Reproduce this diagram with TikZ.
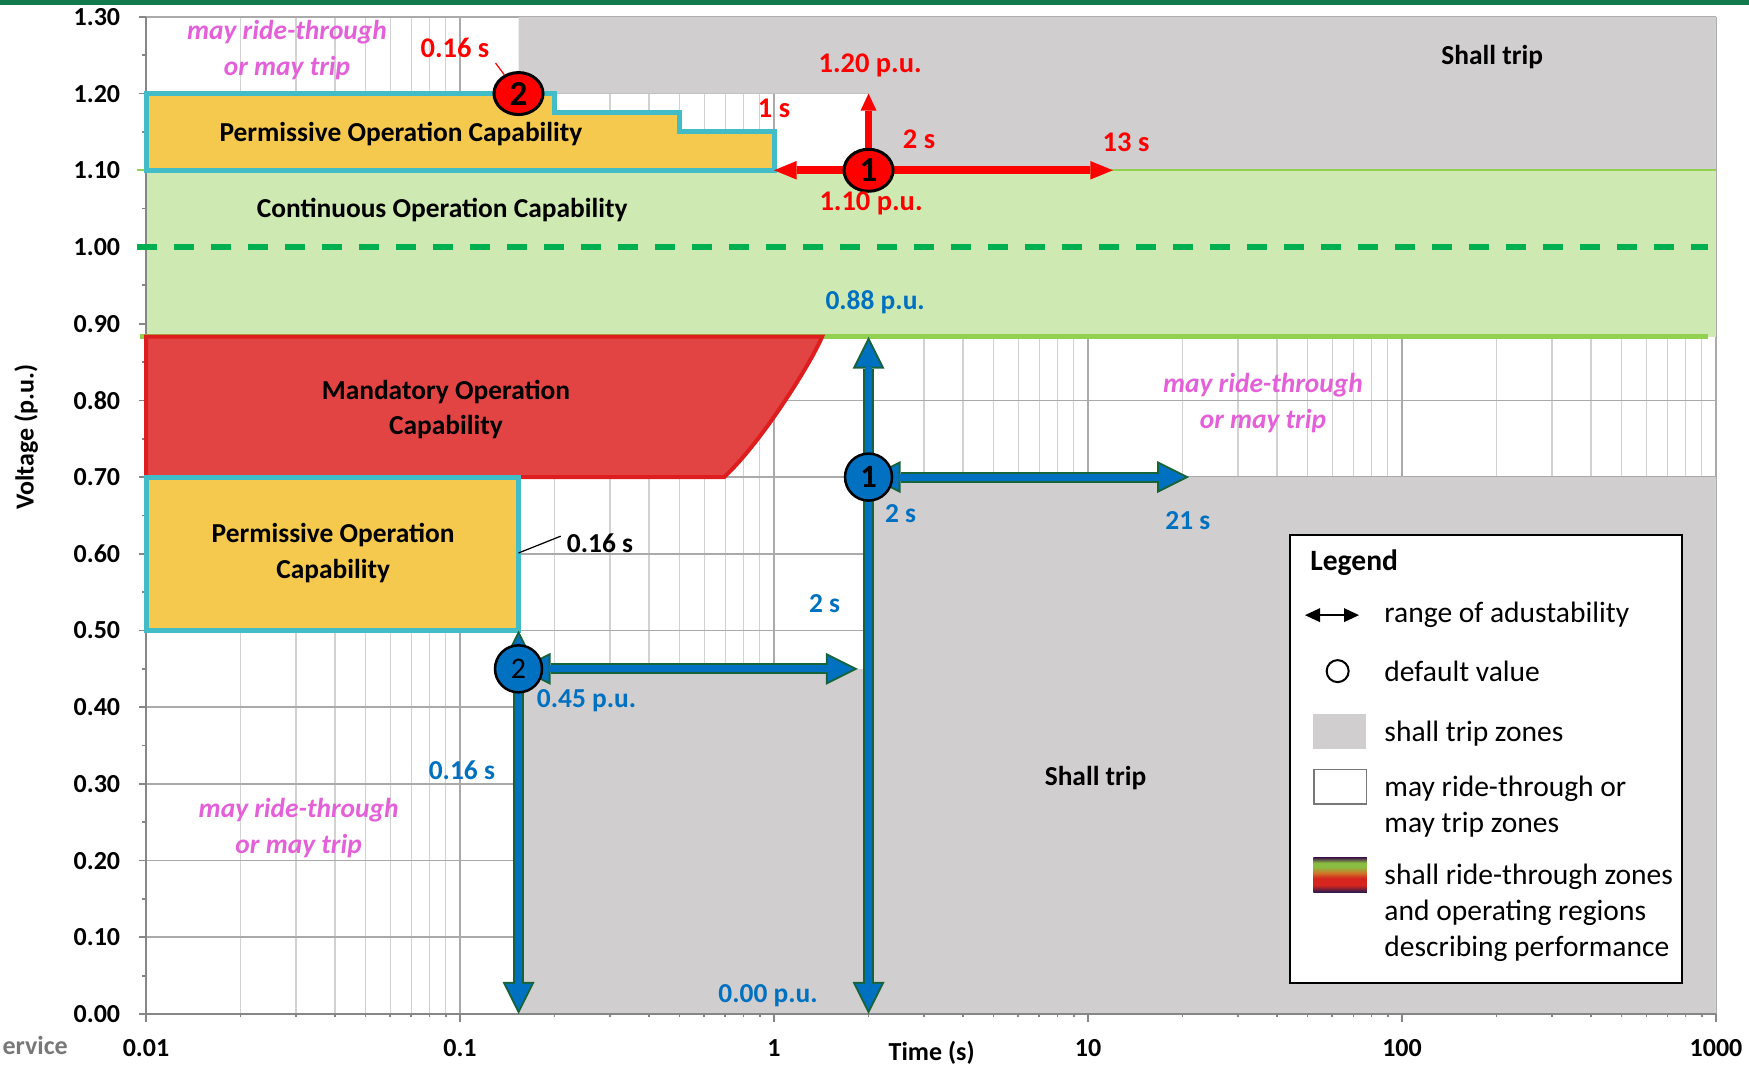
\documentclass[tikz,border=0pt]{standalone}
\usepackage{fontspec}
\setmainfont{Carlito}
\usetikzlibrary{arrows.meta,shapes.geometric,positioning}

\definecolor{tripgray}{RGB}{208,206,207}
\definecolor{contgreen}{RGB}{206,233,178}
\definecolor{limitgreen}{RGB}{146,208,80}
\definecolor{nominalgreen}{RGB}{0,176,80}
\definecolor{permfill}{RGB}{244,201,78}
\definecolor{permedge}{RGB}{66,189,199}
\definecolor{mandfill}{RGB}{226,68,68}
\definecolor{mandedge}{RGB}{222,30,30}
\definecolor{maycolor}{RGB}{228,96,216}
\definecolor{setblue}{RGB}{0,112,192}
\definecolor{rimgreen}{RGB}{24,100,58}
\definecolor{gridmajor}{RGB}{170,170,170}
\definecolor{gridminor}{RGB}{210,210,210}
\definecolor{axisgray}{RGB}{134,134,134}
\definecolor{bandgreen}{RGB}{18,122,76}
\definecolor{logogray}{RGB}{120,120,120}
\definecolor{zonenavy}{RGB}{22,24,84}
\definecolor{zonered}{RGB}{214,36,30}
\definecolor{zoneorange}{RGB}{206,120,40}
\definecolor{zonegreen}{RGB}{138,190,66}
\definecolor{zonepurple}{RGB}{72,40,72}

\pgfdeclareverticalshading{ridezones}{100bp}{color(0bp)=(zonenavy); color(25bp)=(zonenavy); color(36bp)=(zonered); color(46bp)=(zonered); color(54bp)=(zoneorange); color(62bp)=(zonegreen); color(68bp)=(zonegreen); color(75bp)=(zonepurple); color(100bp)=(zonepurple)}

\begin{document}
\begin{tikzpicture}[x=6.28cm, y=15.34cm, declare function={lt(\t)=log10(\t)+2;}]

\tikzstyle{majorgrid}=[draw=gridmajor, line width=0.35mm]
\tikzstyle{minorgrid}=[draw=gridminor, line width=0.3mm]
\tikzstyle{axisline}=[draw=axisgray, line width=0.35mm]
\tikzstyle{permissive}=[draw=permedge, fill=permfill, line width=1mm]
\tikzstyle{mandatory}=[draw=mandedge, fill=mandfill, line width=0.8mm]
\tikzstyle{ticklabel}=[inner sep=0pt, font=\fontsize{14.8}{17}\selectfont\bfseries]
\tikzstyle{zonelabel}=[align=center, font=\fontsize{15.6}{20}\selectfont\bfseries]
\tikzstyle{maylabel}=[align=center, text=maycolor, font=\fontsize{15.6}{20.5}\selectfont\bfseries\itshape]
\tikzstyle{redlabel}=[text=red, font=\fontsize{16.2}{19}\selectfont\bfseries]
\tikzstyle{bluelabel}=[text=setblue, font=\fontsize{15.6}{19}\selectfont\bfseries]
\tikzstyle{legendtext}=[anchor=west, inner sep=0pt, align=left, font=\fontsize{16.8}{20.5}\selectfont]
\tikzstyle{redmark}=[ellipse, draw=black, line width=0.6mm, fill=red, minimum width=9.8mm, minimum height=8.4mm, inner sep=0pt, font=\fontsize{20}{20}\selectfont\bfseries]
\tikzstyle{bluemark}=[circle, draw=black, line width=0.5mm, fill=setblue, minimum size=9.4mm, inner sep=0pt]
\tikzstyle{redarrow}=[red, line width=1.6mm, {Triangle[length=4.5mm,width=3.7mm,line width=0pt]}-{Triangle[length=4.5mm,width=3.7mm,line width=0pt]}]
\tikzstyle{redup}=[red, line width=1.5mm, -{Triangle[length=3.4mm,width=3.2mm,line width=0pt]}]
\tikzstyle{bluerim}=[rimgreen, line width=2.2mm, >={Triangle[length=6.4mm,width=6.4mm,line width=0pt]}]
\tikzstyle{bluecore}=[setblue, line width=1.4mm, shorten <=0.9mm, shorten >=0.9mm, >={Triangle[length=5.1mm,width=5.1mm,line width=0pt]}]

\useasboundingbox (-0.465,-0.0704) rectangle (5.105,1.322);
\fill[bandgreen] (-0.465,1.3161) rectangle (5.105,1.322);

\foreach \d in {0,...,4}
  \foreach \k in {2,...,9}
    \draw[minorgrid] ({\d+log10(\k)},0) -- ({\d+log10(\k)},1.3);
\foreach \d in {0,...,5}
  \draw[majorgrid] (\d,0) -- (\d,1.3);
\foreach \i in {1,...,13}
  \draw[majorgrid] (0,\i/10) -- (5,\i/10);

\fill[tripgray] ({lt(0.152)},1.3) -- (5,1.3) -- (5,1.10) -- ({lt(2)},1.10) -- ({lt(2)},1.20) -- ({lt(0.152)},1.20) -- cycle;
\fill[tripgray] ({lt(0.152)},0) -- ({lt(0.152)},0.45) -- ({lt(2)},0.45) -- ({lt(2)},0.70) -- (5,0.70) -- (5,0) -- cycle;
\fill[contgreen] (0,0.883) rectangle (5,1.10);

\draw[axisline] (0,0) -- (0,1.3);
\draw[axisline] (0,0) -- (5,0);
\foreach \i in {0,...,13}
  \draw[axisline] (0,\i/10) -- ++(-1.5mm,0);
\foreach \i in {0,...,12}
  \draw[axisline] (0,\i/10+0.05) -- ++(-0.9mm,0);
\foreach \d in {0,...,5}
  \draw[axisline] (\d,0) -- ++(0,-1.6mm);
\foreach \d in {0,...,4}
  \foreach \k in {2,...,9}
    \draw[axisline] ({\d+log10(\k)},0) -- ++(0,-0.6mm);

\foreach \i [evaluate=\i as \v using \i/10] in {0,...,13}
  \node[ticklabel, left=5.1mm] (yl\i) at (0,\v) {\pgfmathprintnumber[fixed,fixed zerofill,precision=2,assume math mode=true]{\v}};
\foreach \t [count=\n from 0] in {0.01,0.1,1,10,100,1000}
  \node[ticklabel, below=5.1mm] (xl\n) at (\n,0) {\t};
\node[ticklabel] (xtitle) at (2.502,-0.0508) {Time (s)};
\node[ticklabel, rotate=90] (ytitle) at (-0.382,0.752) {Voltage (p.u.)};
\node[ticklabel, anchor=east, text=logogray] (logo) at (-0.248,-0.0404) {ervice};

\draw[limitgreen, line width=0.4mm] (-0.03,1.10) -- (5,1.10);
\draw[limitgreen, line width=1mm] (-0.02,0.883) -- (4.975,0.883);
\draw[nominalgreen, line width=1.14mm, dash pattern=on 4.1mm off 3.3mm] (-0.03,1.0) -- (4.975,1.0);

\draw[permissive] (0,1.10) -- (0,1.20) -- ({lt(0.2)},1.20) -- ({lt(0.2)},1.175) -- ({lt(0.5)},1.175) -- ({lt(0.5)},1.15) -- ({lt(1)},1.15) -- ({lt(1)},1.10) -- cycle;
\draw[mandatory] (0,0.70) -- (0,0.883) -- (2.153,0.883) .. controls (2.12,0.85) and (1.96,0.745) .. (1.841,0.70) -- cycle;
\draw[permissive] (0,0.50) rectangle ({lt(0.152)},0.70);

\coordinate (ov1) at ({lt(2)},1.10);
\coordinate (ov2) at ({lt(0.152)},1.20);
\coordinate (ovlo) at ({lt(1)},1.10);
\coordinate (ovhi) at ({lt(12)},1.10);
\coordinate (ovtop) at ({lt(2)},1.20);
\coordinate (uv1) at ({lt(2)},0.70);
\coordinate (uvtop) at ({lt(2)},0.883);
\coordinate (uvbot) at ({lt(2)},0);
\coordinate (uvend) at ({lt(21)},0.70);
\coordinate (uv2) at ({lt(0.152)},0.45);
\coordinate (uv2top) at ({lt(0.152)},0.50);
\coordinate (uv2bot) at ({lt(0.152)},0);
\coordinate (uv2end) at (2.267,0.45);
\coordinate (boxedge) at ({lt(0.152)},0.601);

\draw[redarrow] (ovlo) -- (ovhi);
\draw[redup] (ov1) -- (ovtop);
\draw[bluerim,<->] (uvtop) -- (uvbot);
\draw[bluecore,<->] (uvtop) -- (uvbot);
\draw[bluerim,<->] (uv1) -- (uvend);
\draw[bluecore,<->] (uv1) -- (uvend);
\draw[bluerim,<->] (uv2top) -- (uv2bot);
\draw[bluecore,<->] (uv2top) -- (uv2bot);
\draw[bluerim,<->] (uv2) -- (uv2end);
\draw[bluecore,<->] (uv2) -- (uv2end);

\node[redmark] (ovmark1) at (ov1) {1};
\node[redmark] (ovmark2) at (ov2) {2};
\node[bluemark, font=\fontsize{18.5}{18.5}\selectfont\bfseries] (uvmark1) at (uv1) {1};
\node[bluemark, font=\fontsize{17}{17}\selectfont] (uvmark2) at (uv2) {2};

\node[maylabel] (mayhi) at (0.449,1.257) {may ride-through\\or may trip};
\node[redlabel] (ovt016) at (0.984,1.259) {0.16 s};
\draw[red, line width=0.25mm] (ovt016.-20) -- (ovmark2);
\node[zonelabel] (permhi) at (0.812,1.147) {Permissive Operation Capability};
\node[zonelabel] (cont) at (0.943,1.048) {Continuous Operation Capability};
\node[zonelabel] (triphi) at (4.287,1.248) {Shall trip};
\node[redlabel] (ovv120) at (2.306,1.237) {1.20 p.u.};
\node[redlabel] (ovt1) at (2.0,1.181) {1 s};
\node[redlabel] (ovt2) at (2.462,1.140) {2 s};
\node[redlabel] (ovt13) at (3.121,1.136) {13 s};
\node[redlabel] (ovv110) at (2.309,1.057) {1.10 p.u.};
\node[bluelabel] (uvv088) at (2.322,0.928) {0.88 p.u.};
\node[zonelabel] (mand) at (0.955,0.788) {Mandatory Operation\\Capability};
\node[zonelabel] (permlo) at (0.596,0.601) {Permissive Operation\\Capability};
\node[zonelabel] (permt016) at (1.446,0.614) {0.16 s};
\draw[black, line width=0.25mm] (permt016.170) -- (boxedge);
\node[maylabel] (maymid) at (3.557,0.797) {may ride-through\\or may trip};
\node[bluelabel] (uvt2a) at (2.403,0.653) {2 s};
\node[bluelabel] (uvt21) at (3.318,0.643) {21 s};
\node[bluelabel] (uvt2b) at (2.161,0.535) {2 s};
\node[bluelabel] (uvv045) at (1.403,0.409) {0.45 p.u.};
\node[bluelabel] (uvt016) at (1.006,0.318) {0.16 s};
\node[maylabel] (maylo) at (0.486,0.243) {may ride-through\\or may trip};
\node[zonelabel] (triplo) at (3.024,0.308) {Shall trip};
\node[bluelabel] (uvv000) at (1.981,0.0235) {0.00 p.u.};

\draw[black, line width=0.4mm, fill=white] (3.643,0.0404) rectangle (4.892,0.6245);
\node[legendtext, font=\fontsize{16.8}{20.5}\selectfont\bfseries] (lgtitle) at (3.707,0.588) {Legend};
\coordinate (lga) at (3.691,0.520);
\coordinate (lgb) at (3.863,0.520);
\draw[black, line width=0.4mm, {Triangle[length=3mm,width=2.8mm,line width=0pt]}-{Triangle[length=3mm,width=2.8mm,line width=0pt]}] (lga) -- (lgb);
\node[legendtext] (lgrange) at (3.943,0.520) {range of adustability};
\node[circle, draw=black, line width=0.4mm, minimum size=4.4mm, inner sep=0pt] (lgdot) at (3.795,0.447) {};
\node[legendtext] (lgdefault) at (3.943,0.447) {default value};
\node[fill=tripgray, minimum width=10.5mm, minimum height=6.9mm, inner sep=0pt] (lgtrip) at (3.801,0.368) {};
\node[legendtext] (lgtriptext) at (3.943,0.366) {shall trip zones};
\node[draw=logogray, line width=0.3mm, fill=white, minimum width=10.5mm, minimum height=6.9mm, inner sep=0pt] (lgmay) at (3.803,0.296) {};
\node[legendtext] (lgmaytext) at (3.943,0.270) {may ride-through or\\may trip zones};
\node[shade, shading=ridezones, minimum width=10.7mm, minimum height=7mm, inner sep=0pt] (lgride) at (3.803,0.1806) {};
\node[legendtext] (lgridetext) at (3.943,0.1317) {shall ride-through zones\\and operating regions\\describing performance};

\end{tikzpicture}
\end{document}
